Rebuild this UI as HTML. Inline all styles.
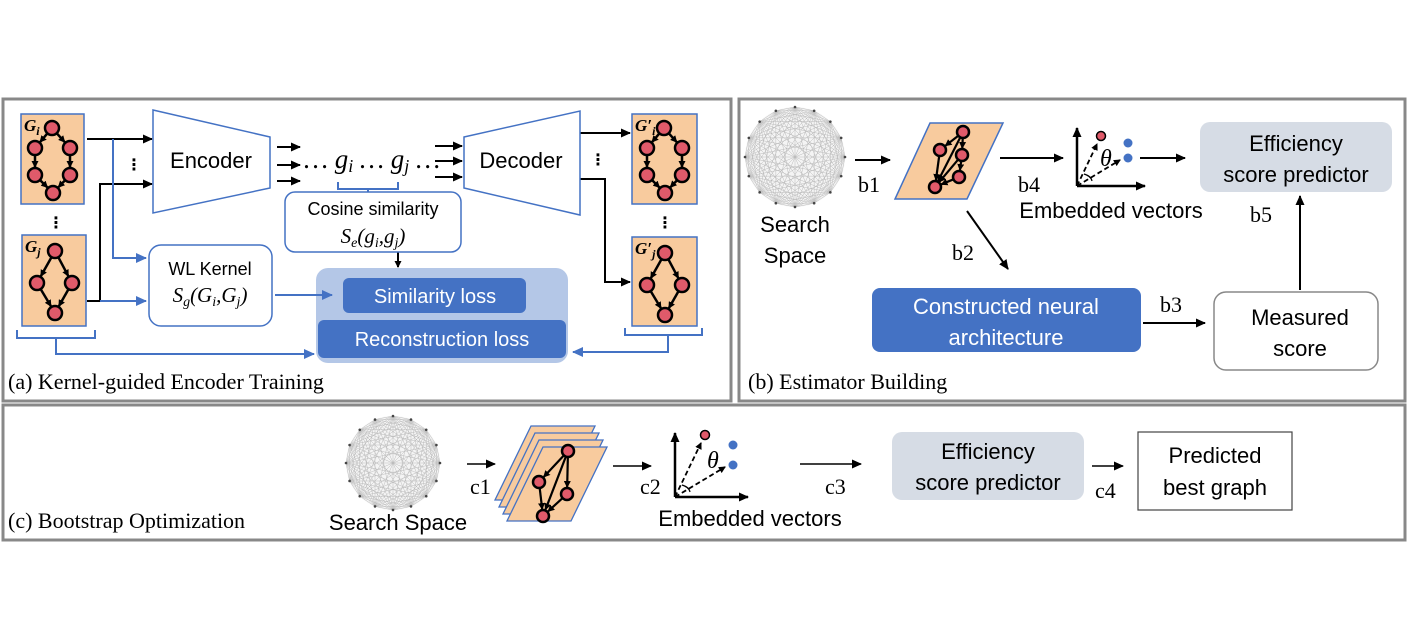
<!DOCTYPE html>
<html><head><meta charset="utf-8"><style>
html,body{margin:0;padding:0;background:#fff;}
svg{display:block;}
.s{font-family:"Liberation Sans","DejaVu Sans",sans-serif;}
.r{font-family:"Liberation Serif",serif;}
</style></head><body>
<svg id="sv" width="1410" height="630" viewBox="0 0 1410 630" xmlns="http://www.w3.org/2000/svg">
<defs>
<marker id="ak" markerWidth="10" markerHeight="10" refX="9" refY="5" orient="auto" markerUnits="userSpaceOnUse"><path d="M0,0.5 L10,5 L0,9.5 z" fill="#000"/></marker>
<marker id="ab" markerWidth="11" markerHeight="11" refX="10" refY="5.5" orient="auto" markerUnits="userSpaceOnUse"><path d="M0,0.5 L11,5.5 L0,10.5 z" fill="#4472C4"/></marker>
<marker id="as" markerWidth="7" markerHeight="7" refX="6" refY="3.5" orient="auto" markerUnits="userSpaceOnUse"><path d="M0,0 L7,3.5 L0,7 z" fill="#000"/></marker>
</defs>
<rect x="3" y="99" width="728" height="302" fill="none" stroke="#888" stroke-width="3"/>
<rect x="739" y="99" width="666" height="302" fill="none" stroke="#888" stroke-width="3"/>
<rect x="3" y="405" width="1402" height="135" fill="none" stroke="#888" stroke-width="3"/>

<rect x="316" y="268" width="252" height="95" rx="12" fill="#B4C7E7"/>
<rect x="343" y="278" width="183" height="35" rx="6" fill="#4472C4"/>
<text x="435" y="303" class="s" font-size="20" fill="#fff" text-anchor="middle">Similarity loss</text>
<rect x="318" y="320" width="248" height="38" rx="6" fill="#4472C4"/>
<text x="442" y="346" class="s" font-size="20" fill="#fff" text-anchor="middle">Reconstruction loss</text>

<g id="graphs"></g>

<g stroke="#000" stroke-width="2" fill="none">
<path d="M87,139 H152" marker-end="url(#ak)"/>
<path d="M87,301 H100 V184 H152" marker-end="url(#ak)"/>
<path d="M277,147 H300" marker-end="url(#ak)"/>
<path d="M277,165 H300" marker-end="url(#ak)"/>
<path d="M277,181 H300" marker-end="url(#ak)"/>
<path d="M435,146 H462" marker-end="url(#ak)"/>
<path d="M435,161 H462" marker-end="url(#ak)"/>
<path d="M435,177 H462" marker-end="url(#ak)"/>
<path d="M580,133 H630" marker-end="url(#ak)"/>
<path d="M580,179 H605 V282 H630" marker-end="url(#ak)"/>
<path d="M398,252 V267" marker-end="url(#as)"/>
</g>
<g stroke="#4472C4" stroke-width="2" fill="none">
<path d="M113,139 V258 H146" marker-end="url(#ab)"/>
<path d="M100,301 H146" marker-end="url(#ab)"/>
<path d="M275,295 H332" marker-end="url(#ab)"/>
<path d="M17,330 V338 H95 V330 M56,338 V354 H314" marker-end="url(#ab)"/>
<path d="M625,328 V335 H702 V328 M668,335 V352 H573" marker-end="url(#ab)"/>
<path d="M338,182 V189 H398 V182 M368,189 V196"/>
</g>
<polygon points="153,110 270,137 270,188 153,213" fill="#fff" stroke="#4472C4" stroke-width="1.5"/>
<text x="211" y="168" class="s" font-size="22" text-anchor="middle">Encoder</text>
<polygon points="464,137 580,111 580,215 464,188" fill="#fff" stroke="#4472C4" stroke-width="1.5"/>
<text x="521" y="168" class="s" font-size="22" text-anchor="middle">Decoder</text>
<text x="304" y="168" class="r" font-size="27" font-style="italic">… g<tspan font-size="18" dy="4">i</tspan><tspan dy="-4"> … g</tspan><tspan font-size="18" dy="4">j</tspan><tspan dy="-4"> …</tspan></text>
<g class="s" font-size="16" font-weight="bold">
<text x="134" y="170" text-anchor="middle">⋮</text>
<text x="56" y="228" text-anchor="middle">⋮</text>
<text x="598" y="165" text-anchor="middle">⋮</text>
<text x="665" y="228" text-anchor="middle">⋮</text>
</g>
<rect x="285" y="192" width="176" height="60" rx="10" fill="#fff" stroke="#4472C4" stroke-width="1.5"/>
<text x="373" y="215" class="s" font-size="18" text-anchor="middle">Cosine similarity</text>
<text x="373" y="243" class="r" font-size="21" font-style="italic" text-anchor="middle">S<tspan font-size="14" dy="4">e</tspan><tspan dy="-4">(g</tspan><tspan font-size="14" dy="4">i</tspan><tspan dy="-4">,g</tspan><tspan font-size="14" dy="4">j</tspan><tspan dy="-4">)</tspan></text>
<rect x="149" y="245" width="123" height="81" rx="12" fill="#fff" stroke="#4472C4" stroke-width="1.5"/>
<text x="210" y="275" class="s" font-size="18" text-anchor="middle">WL Kernel</text>
<text x="210" y="302" class="r" font-size="21" font-style="italic" text-anchor="middle">S<tspan font-size="14" dy="4">g</tspan><tspan dy="-4">(G</tspan><tspan font-size="14" dy="4">i</tspan><tspan dy="-4">,G</tspan><tspan font-size="14" dy="4">j</tspan><tspan dy="-4">)</tspan></text>
<text x="8" y="389" class="r" font-size="22">(a) Kernel-guided Encoder Training</text>

<g id="ss1"></g>
<text x="795" y="232" class="s" font-size="22" text-anchor="middle">Search</text>
<text x="795" y="263" class="s" font-size="22" text-anchor="middle">Space</text>
<g stroke="#000" stroke-width="2" fill="none">
<path d="M855,160 H890" marker-end="url(#ak)"/>
<path d="M1000,158 H1063" marker-end="url(#ak)"/>
<path d="M1140,158 H1185" marker-end="url(#ak)"/>
<path d="M967,211 L1008,269" marker-end="url(#ak)"/>
<path d="M1143,323 H1205" marker-end="url(#ak)"/>
<path d="M1300,290 V196" marker-end="url(#ak)"/>
</g>
<g class="r" font-size="22">
<text x="858" y="192">b1</text>
<text x="1018" y="192">b4</text>
<text x="952" y="260">b2</text>
<text x="1160" y="312">b3</text>
<text x="1250" y="222">b5</text>
</g>
<polygon points="930,123 1003,123 967,199 895,199" fill="#F8CB9E" stroke="#4472C4" stroke-width="1.5"/>
<g id="pg1"></g>
<g id="ax1"></g>
<text x="1111" y="218" class="s" font-size="22" text-anchor="middle">Embedded vectors</text>
<rect x="1200" y="122" width="192" height="70" rx="10" fill="#D6DCE5"/>
<text x="1296" y="151" class="s" font-size="22" text-anchor="middle">Efficiency</text>
<text x="1296" y="182" class="s" font-size="22" text-anchor="middle">score predictor</text>
<rect x="872" y="288" width="269" height="64" rx="8" fill="#4472C4"/>
<text x="1006" y="314" class="s" font-size="22" fill="#fff" text-anchor="middle">Constructed neural</text>
<text x="1006" y="345" class="s" font-size="22" fill="#fff" text-anchor="middle">architecture</text>
<rect x="1214" y="292" width="164" height="78" rx="12" fill="#fff" stroke="#888" stroke-width="1.5"/>
<text x="1300" y="325" class="s" font-size="22" text-anchor="middle">Measured</text>
<text x="1300" y="356" class="s" font-size="22" text-anchor="middle">score</text>
<text x="748" y="389" class="r" font-size="22">(b) Estimator Building</text>

<text x="8" y="528" class="r" font-size="22">(c) Bootstrap Optimization</text>
<g id="ss2"></g>
<text x="398" y="530" class="s" font-size="22" text-anchor="middle">Search Space</text>
<g stroke="#000" stroke-width="1.6" fill="none">
<path d="M467,464 H495" marker-end="url(#ak)"/>
<path d="M613,466 H651" marker-end="url(#ak)"/>
<path d="M800,464 H861" marker-end="url(#ak)"/>
<path d="M1092,466 H1123" marker-end="url(#ak)"/>
</g>
<g class="r" font-size="22">
<text x="470" y="494">c1</text>
<text x="640" y="494">c2</text>
<text x="825" y="494">c3</text>
<text x="1095" y="498">c4</text>
</g>
<g id="stack"></g>
<g id="ax2"></g>
<text x="750" y="526" class="s" font-size="22" text-anchor="middle">Embedded vectors</text>
<rect x="892" y="432" width="192" height="68" rx="10" fill="#D6DCE5"/>
<text x="988" y="459" class="s" font-size="22" text-anchor="middle">Efficiency</text>
<text x="988" y="490" class="s" font-size="22" text-anchor="middle">score predictor</text>
<rect x="1138" y="432" width="154" height="78" fill="#fff" stroke="#444" stroke-width="1.2"/>
<text x="1215" y="463" class="s" font-size="22" text-anchor="middle">Predicted</text>
<text x="1215" y="495" class="s" font-size="22" text-anchor="middle">best graph</text>
</svg>
<script>
var NS="http://www.w3.org/2000/svg";
function el(p,t,a){var e=document.createElementNS(NS,t);for(var k in a)e.setAttribute(k,a[k]);p.appendChild(e);return e;}
function G(id){return document.getElementById(id);}
function graph(g,nodes,edges,r,sw){
 edges.forEach(function(e){var a=nodes[e[0]],b=nodes[e[1]];var dx=b[0]-a[0],dy=b[1]-a[1],L=Math.hypot(dx,dy);
  el(g,"line",{x1:a[0]+dx/L*r,y1:a[1]+dy/L*r,x2:b[0]-dx/L*(r+1),y2:b[1]-dy/L*(r+1),stroke:"#000","stroke-width":sw,"marker-end":"url(#as)"});});
 nodes.forEach(function(n){el(g,"circle",{cx:n[0],cy:n[1],r:r,fill:"#E05A6A",stroke:"#000","stroke-width":2.5});});
}
function box(x,y,w,h,base,sub){var g=G("graphs");
 el(g,"rect",{x:x,y:y,width:w,height:h,fill:"#F8CB9E",stroke:"#4472C4","stroke-width":1.5});
 var t=el(g,"text",{x:x+3,y:y+17,"font-family":"Liberation Serif,serif","font-size":17,"font-weight":"bold","font-style":"italic"});
 t.appendChild(document.createTextNode(base));
 var s=el(t,"tspan",{"font-size":12,dy:4});s.textContent=sub;
}
box(21,114,63,90,"G","i");box(22,235,64,91,"G","j");box(632,114,65,90,"G′","i");box(632,237,65,89,"G′","j");
var hex=function(ox,oy){return [[ox+31,oy+14],[ox+14,oy+34],[ox+49,oy+34],[ox+14,oy+61],[ox+49,oy+61],[ox+32,oy+79]];};
var he=[[0,1],[0,2],[1,3],[2,4],[3,5],[4,5]];
graph(G("graphs"),hex(21,114),he,7,2.5);graph(G("graphs"),hex(633,114),he,7,2.5);
var dia=function(ox,oy){return [[ox+33,oy+16],[ox+15,oy+48],[ox+50,oy+48],[ox+33,oy+78]];};
var de=[[0,1],[0,2],[1,3],[2,3]];
graph(G("graphs"),dia(22,235),de,7,2.5);graph(G("graphs"),dia(632,237),de,7,2.5);
function ss(id,cx,cy,R){var g=G(id);var n=16,p=[];for(var i=0;i<n;i++){var a=i/n*2*Math.PI;p.push([cx+R*Math.cos(a),cy+R*Math.sin(a)]);}
 el(g,"circle",{cx:cx,cy:cy,r:R,fill:"#f4f4f4"});
 for(var i=0;i<n;i++)for(var j=i+1;j<n;j++)el(g,"line",{x1:p[i][0],y1:p[i][1],x2:p[j][0],y2:p[j][1],stroke:"#bbb","stroke-width":0.5});
 p.forEach(function(q){el(g,"circle",{cx:q[0],cy:q[1],r:1.3,fill:"#444"});});}
ss("ss1",795,157,50);ss("ss2",393,463,47);
graph(G("pg1"),[[963,132],[940,150],[962,155],[959,177],[935,187]],[[0,1],[0,2],[2,3],[1,4],[0,4],[2,4],[3,4]],6,2.2);
var sg=G("stack");
for(var k=3;k>=0;k--){var dx=-k*4,dy=-k*7;
 el(sg,"polygon",{points:[(543+dx)+","+(447+dy),(607+dx)+","+(447+dy),(571+dx)+","+(521+dy),(507+dx)+","+(521+dy)].join(" "),fill:"#F8CB9E",stroke:"#4472C4","stroke-width":1.3});}
graph(sg,[[568,451],[539,482],[567,494],[543,516]],[[0,1],[0,2],[0,3],[1,3],[2,3]],6,2.2);
function ax(id,ox,oy,top,right,red,b1,b2,th){var g=G(id);
 el(g,"path",{d:"M"+ox+","+oy+" V"+top,stroke:"#000","stroke-width":2.5,"marker-end":"url(#ak)",fill:"none"});
 el(g,"path",{d:"M"+ox+","+oy+" H"+right,stroke:"#000","stroke-width":2.5,"marker-end":"url(#ak)",fill:"none"});
 el(g,"line",{x1:ox,y1:oy,x2:red[0]-4,y2:red[1]+8,stroke:"#000","stroke-width":1.8,"stroke-dasharray":"5,3","marker-end":"url(#as)"});
 el(g,"line",{x1:ox,y1:oy,x2:b2[0]-8,y2:b2[1]+2,stroke:"#000","stroke-width":1.8,"stroke-dasharray":"5,3","marker-end":"url(#as)"});
 el(g,"path",{d:"M"+(ox+7)+","+(oy-12)+" Q"+(ox+14)+","+(oy-10)+" "+(ox+15)+","+(oy-5),stroke:"#000","stroke-width":1.2,fill:"none"});
 el(g,"circle",{cx:red[0],cy:red[1],r:4.5,fill:"#E05A6A",stroke:"#000","stroke-width":1.5});
 el(g,"circle",{cx:b1[0],cy:b1[1],r:4.5,fill:"#4472C4"});el(g,"circle",{cx:b2[0],cy:b2[1],r:4.5,fill:"#4472C4"});
 var t=el(g,"text",{x:th[0],y:th[1],"font-family":"Liberation Serif,serif","font-size":24,"font-style":"italic"});t.textContent="θ";}
ax("ax1",1077,186,128,1145,[1101,136],[1128,143],[1128,158],[1100,166]);
ax("ax2",675,497,433,748,[705,435],[733,445],[733,465],[707,468]);
</script>
</body></html>
